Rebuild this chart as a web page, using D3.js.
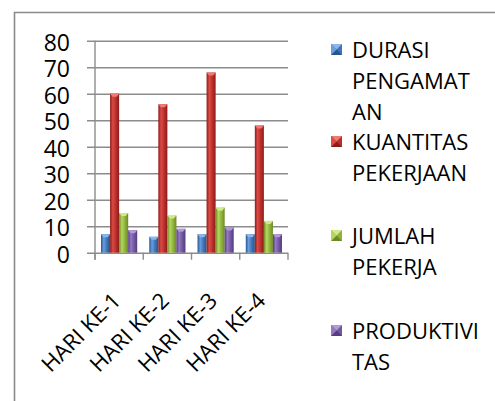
<!DOCTYPE html>
<html><head><meta charset="utf-8">
<script src="https://cdn.jsdelivr.net/npm/d3@7"></script>
<style>html,body{margin:0;padding:0;background:#fff;}svg{display:block;}</style>
</head><body>
<script>
const categories = ["HARI KE-1","HARI KE-2","HARI KE-3","HARI KE-4"];
const durasi = [7,6,7,7];
const kuantitas = [60,56,68,48];
const jumlah = [15,14,17,12];
const produktivitas = [8.5,9,9.5,7];
const yTicks = [0,10,20,30,40,50,60,70,80];
const seriesNames = ["DURASI PENGAMATAN","KUANTITAS PEKERJAAN","JUMLAH PEKERJA","PRODUKTIVITAS"];
const legendLines = [["DURASI","PENGAMAT","AN"],["KUANTITAS","PEKERJAAN"],["JUMLAH","PEKERJA"],["PRODUKTIVI","TAS"]];
const seriesValues = [durasi,kuantitas,jumlah,produktivitas];

(function(){
const W=495,H=401;
const colors = [
  {dark:"#27548c",light:"#6a9ddc",mid:"#3f74b8",cap:"#8db7ea"},
  {dark:"#8e1a18",light:"#dc4a44",mid:"#b8302c",cap:"#ee7a74"},
  {dark:"#6a8a26",light:"#b5d65e",mid:"#8fb23c",cap:"#d0ea88"},
  {dark:"#553c80",light:"#9578c2",mid:"#71589e",cap:"#b29ad8"}
];
const svg=d3.select("body").append("svg").attr("width",W).attr("height",H);
const defs=svg.append("defs");
colors.forEach((c,i)=>{
  const g=defs.append("linearGradient").attr("id","g"+i).attr("x1","0").attr("x2","1").attr("y1","0").attr("y2","0");
  g.append("stop").attr("offset","0%").attr("stop-color",c.dark);
  g.append("stop").attr("offset","30%").attr("stop-color",c.light);
  g.append("stop").attr("offset","65%").attr("stop-color",c.mid);
  g.append("stop").attr("offset","100%").attr("stop-color",c.dark);
});

// outer border
svg.append("path").attr("d",`M14.5,${H+5} L14.5,12.5 L${W+5},12.5`).attr("fill","none").attr("stroke","#8a8a8a").attr("stroke-width",1.6);

const pL=95,pR=288,pT=40.7,pB=252.7;
const y=d3.scaleLinear().domain([0,80]).range([pB,pT]);
const x0=d3.scaleBand().domain(categories).range([pL,pR]).paddingInner(0.25).paddingOuter(0.125);
const x1=d3.scaleBand().domain(d3.range(4)).range([0,x0.bandwidth()]);

// gridlines
const yAxis=d3.axisLeft(y).tickValues(yTicks).tickSize(-(pR-pL)).tickFormat("");
const ga=svg.append("g").attr("transform",`translate(${pL},0)`).call(yAxis);
ga.select(".domain").remove();
ga.selectAll(".tick line").attr("stroke","#8c8c8c").attr("stroke-width",1.4).attr("x1",-8);
// y labels
svg.append("g").selectAll("text").data(yTicks).join("text")
  .attr("x",70).attr("y",d=>y(d)+10).attr("text-anchor","end")
  .attr("font-family","Open Sans").attr("font-size",23).attr("fill","#000").text(d=>d);
// y axis line
svg.append("line").attr("x1",pL).attr("x2",pL).attr("y1",pT).attr("y2",pB+7).attr("stroke","#8c8c8c").attr("stroke-width",1.4);
// category ticks
const edges=categories.map(c=>x0(c)-x0.step()*0.125).concat([pR]);
svg.append("g").selectAll("line").data(edges).join("line")
  .attr("x1",d=>d).attr("x2",d=>d).attr("y1",pB).attr("y2",pB+7).attr("stroke","#8c8c8c").attr("stroke-width",1.4);

// bars
const groups=svg.append("g").selectAll("g").data(categories).join("g").attr("transform",c=>`translate(${x0(c)},0)`);
groups.each(function(c,ci){
  const g=d3.select(this);
  seriesValues.forEach((vals,si)=>{
    const v=vals[ci], bx=x1(si), bw=x1.bandwidth(), by=y(v);
    g.append("rect").attr("x",bx).attr("y",by).attr("width",bw).attr("height",pB-by).attr("fill",`url(#g${si})`);
    g.append("path").attr("d",`M${bx},${by} L${bx+bw},${by} L${bx+bw-2.5},${by+3} L${bx+2.5},${by+3} Z`).attr("fill",colors[si].cap);
  });
});

// x labels
svg.append("g").selectAll("text").data(categories).join("text")
  .attr("transform",c=>`translate(${x0(c)+x0.bandwidth()/2+3},302) rotate(-45)`)
  .attr("text-anchor","end").attr("font-family","Open Sans").attr("font-size",22).attr("fill","#000").text(c=>c);

// legend
const lg=svg.append("g");
const baselines=[58,150,244,339];
seriesNames.forEach((name,i)=>{
  const by=baselines[i], mx=331, my=by-14, s=11, c=colors[i];
  const e=lg.append("g");
  e.append("rect").attr("x",mx).attr("y",my).attr("width",s).attr("height",s).attr("fill",c.mid);
  e.append("path").attr("d",`M${mx},${my} L${mx+s},${my} L${mx+s/2},${my+s/2} Z`).attr("fill",c.cap);
  e.append("path").attr("d",`M${mx},${my+s} L${mx+s},${my+s} L${mx+s/2},${my+s/2} Z`).attr("fill",c.dark);
  e.append("path").attr("d",`M${mx},${my} L${mx},${my+s} L${mx+s/2},${my+s/2} Z`).attr("fill",c.light);
  e.append("text").attr("font-family","Open Sans").attr("font-size",22).attr("fill","#000")
    .selectAll("tspan").data(legendLines[i]).join("tspan")
    .attr("x",352).attr("y",(d,j)=>by+j*31).text(d=>d);
});
})();
</script>
</body></html>
